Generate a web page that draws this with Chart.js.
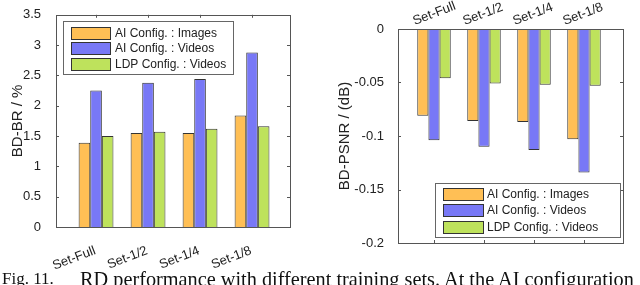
<!DOCTYPE html>
<html><head><meta charset="utf-8">
<script src="https://cdn.jsdelivr.net/npm/chart.js@4/dist/chart.umd.min.js"></script>
<style>
html,body{margin:0;padding:0;background:#fff;width:640px;height:285px;overflow:hidden;}
#wrap{position:relative;width:640px;height:285px;}
.c{position:absolute;top:0;}
#cap{position:absolute;left:0;top:269px;font-family:"Liberation Serif","Times New Roman",serif;line-height:20px;white-space:nowrap;color:#111;width:640px;height:16px;}
#fig{position:absolute;left:2px;top:0;font-size:17px;}
#txt{position:absolute;left:80px;top:0;font-size:20.3px;}
</style></head>
<body><div id="wrap">
<canvas id="left" class="c" width="320" height="285" style="left:0"></canvas>
<canvas id="right" class="c" width="320" height="285" style="left:320px"></canvas>
<div id="cap"><span id="fig">Fig. 11.</span><span id="txt">RD performance with different training sets. At the AI configuration</span></div>
</div>
<script>
const categories = ['Set-Full', 'Set-1/2', 'Set-1/4', 'Set-1/8'];
const seriesNames = ['AI Config. : Images', 'AI Config. : Videos', 'LDP Config. : Videos'];
const brImages = [1.39, 1.55, 1.55, 1.84];
const brVideosAI = [2.25, 2.38, 2.44, 2.88];
const brVideosLDP = [1.50, 1.57, 1.62, 1.66];
const psnrImages = [-0.081, -0.086, -0.087, -0.103];
const psnrVideosAI = [-0.104, -0.110, -0.113, -0.134];
const psnrVideosLDP = [-0.046, -0.051, -0.052, -0.053];
const brTicks = [0, 0.5, 1, 1.5, 2, 2.5, 3, 3.5];
const psnrTicks = [-0.2, -0.15, -0.1, -0.05, 0];
const colors = ['#FFBF55', '#7878F6', '#BEE25C'];

Chart.defaults.font.family = '"Liberation Sans", Arial, sans-serif';
Chart.defaults.color = '#222';

const boxPlugin = {
  id: 'boxTicks',
  beforeDatasetsDraw(chart) {
    const {ctx, chartArea: a, scales: {x, y}} = chart;
    ctx.save();
    ctx.strokeStyle = '#555'; ctx.lineWidth = 1;
    ctx.beginPath();
    const L = 3;
    y.ticks.forEach(t => {
      const py = Math.round(y.getPixelForValue(t.value)) + 0.5;
      ctx.moveTo(a.left, py); ctx.lineTo(a.left + L, py);
      ctx.moveTo(a.right, py); ctx.lineTo(a.right - L, py);
    });
    x.ticks.forEach(t => {
      const px = Math.round(x.getPixelForValue(t.value)) + 0.5;
      ctx.moveTo(px, a.top); ctx.lineTo(px, a.top + L);
      ctx.moveTo(px, a.bottom); ctx.lineTo(px, a.bottom - L);
    });
    ctx.stroke();
    ctx.restore();
  },
  afterDatasetsDraw(chart) {
    const {ctx, chartArea: a} = chart;
    ctx.save();
    ctx.strokeStyle = '#555'; ctx.lineWidth = 1;
    ctx.strokeRect(Math.round(a.left) + 0.5, Math.round(a.top) + 0.5,
      Math.round(a.right - a.left), Math.round(a.bottom - a.top));
    ctx.restore();
  }
};

const legendPlugin = {
  id: 'boxLegend',
  afterDraw(chart, args, o) {
    const {ctx, chartArea: a} = chart;
    const x0 = Math.round(o.anchor === 'tl' ? a.left + o.dx : a.right - o.dx - o.w);
    const y0 = Math.round(o.anchor === 'tl' ? a.top + o.dy : a.bottom - o.dy - o.h);
    ctx.save();
    ctx.fillStyle = '#fff';
    ctx.fillRect(x0, y0, o.w, o.h);
    ctx.strokeStyle = '#666'; ctx.lineWidth = 1;
    ctx.strokeRect(x0 + 0.5, y0 + 0.5, o.w, o.h);
    ctx.font = '12px "Liberation Sans", Arial, sans-serif';
    ctx.textBaseline = 'middle';
    chart.data.datasets.forEach((ds, i) => {
      const cy = y0 + o.padTop + o.rowH * (i + 0.5);
      const sx = x0 + o.padLeft;
      ctx.fillStyle = ds.backgroundColor;
      ctx.fillRect(sx, Math.round(cy - o.swH / 2), o.sw, o.swH);
      ctx.strokeStyle = '#333';
      ctx.strokeRect(sx + 0.5, Math.round(cy - o.swH / 2) + 0.5, o.sw, o.swH);
      ctx.fillStyle = '#222';
      ctx.fillText(ds.label, sx + o.sw + o.gap, cy + 0.5);
    });
    ctx.restore();
  }
};

function buildDatasets(seriesList) {
  return seriesList.map((vals, i) => ({
    label: seriesNames[i],
    data: vals.map((v, j) => ({x: j + 1, y: v})),
    backgroundColor: colors[i],
    borderColor: '#333',
    borderWidth: 1,
    barPercentage: 1,
    categoryPercentage: 0.67
  }));
}

function fmt(v) { return String(Math.round(v * 100) / 100); }

function makeChart(id, seriesList, cfg) {
  return new Chart(document.getElementById(id), {
    type: 'bar',
    data: {datasets: buildDatasets(seriesList)},
    options: {
      responsive: false,
      animation: false,
      devicePixelRatio: 1,
      layout: {padding: cfg.padding},
      plugins: {legend: {display: false}, tooltip: {enabled: false}, boxLegend: cfg.legend},
      scales: {
        x: {
          type: 'linear',
          position: cfg.xPos,
          min: cfg.xMin, max: cfg.xMax,
          offset: false,
          grid: {display: false},
          border: {display: false},
          afterBuildTicks: s => { s.ticks = categories.map((c, i) => ({value: i + 1})); },
          afterFit: s => { s.height = cfg.xH; },
          ticks: {
            autoSkip: false, minRotation: 21, maxRotation: 21,
            padding: cfg.xPad, labelOffset: cfg.xLabelOffset,
            font: {size: 13}, color: '#222',
            callback: v => categories[Math.round(v) - 1]
          }
        },
        y: {
          type: 'linear',
          min: cfg.yMin, max: cfg.yMax,
          grid: {display: false},
          border: {display: false},
          afterBuildTicks: s => { s.ticks = cfg.yTicks.map(v => ({value: v})); },
          afterFit: s => { s.width = cfg.yW; },
          ticks: {padding: cfg.yPad, font: {size: 13}, color: '#222', callback: v => fmt(v)},
          title: {display: true, text: cfg.yTitle, font: {size: 15}, color: '#222', padding: {top: cfg.titlePad, bottom: 0}}
        }
      }
    },
    plugins: [boxPlugin, legendPlugin]
  });
}

makeChart('left', [brImages, brVideosAI, brVideosLDP], {
  padding: {left: 0, right: 30, top: 13, bottom: 8},
  xPos: 'bottom', xMin: 0.23, xMax: 4.73, xH: 50, xPad: 8, xLabelOffset: -1,
  yMin: 0, yMax: 3.5, yTicks: brTicks, yW: 56, yPad: 7, yTitle: 'BD-BR / %', titlePad: 9,
  legend: {anchor: 'tl', dx: 7, dy: 6, w: 170, h: 53, padTop: 4, rowH: 15.5, padLeft: 8, sw: 39, swH: 12, gap: 5}
});

makeChart('right', [psnrImages, psnrVideosAI, psnrVideosLDP], {
  padding: {left: 0, right: 17, top: 0, bottom: 42},
  xPos: 'top', xMin: 0.28, xMax: 4.78, xH: 29, xPad: -8, xLabelOffset: -15,
  yMin: -0.2, yMax: 0, yTicks: psnrTicks, yW: 78, yPad: 6, yTitle: 'BD-PSNR / (dB)', titlePad: 16,
  legend: {anchor: 'br', dx: 3, dy: 6, w: 185, h: 54, padTop: 2.5, rowH: 16.5, padLeft: 8, sw: 40, swH: 12, gap: 4}
});
</script>
</body></html>
